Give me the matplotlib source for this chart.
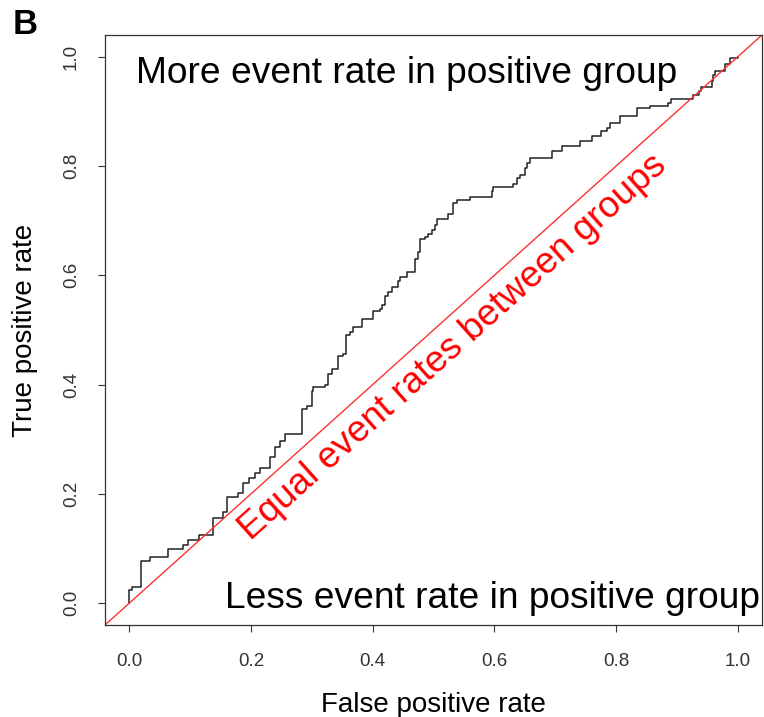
import matplotlib
matplotlib.use("Agg")
import matplotlib.pyplot as plt
import numpy as np

plt.rcParams['font.family'] = ['Liberation Sans', 'DejaVu Sans']

# ROC step curve corners (false positive rate, true positive rate)
fpr = [0.000, 0.000, 0.005, 0.019, 0.034, 0.064, 0.089, 0.097, 0.115, 0.138,
       0.154, 0.161, 0.179, 0.187, 0.196, 0.207, 0.215, 0.232, 0.240, 0.248,
       0.256, 0.284, 0.292, 0.300, 0.302, 0.322, 0.327, 0.333, 0.343, 0.351,
       0.357, 0.363, 0.368, 0.382, 0.401, 0.412, 0.415, 0.420, 0.425, 0.431,
       0.442, 0.445, 0.456, 0.470, 0.475, 0.478, 0.486, 0.491, 0.497, 0.502,
       0.505, 0.524, 0.532, 0.538, 0.560, 0.596, 0.598, 0.631, 0.637, 0.642,
       0.650, 0.653, 0.658, 0.694, 0.711, 0.741, 0.760, 0.776, 0.786, 0.790,
       0.806, 0.834, 0.856, 0.886, 0.891, 0.926, 0.937, 0.940, 0.957, 0.959,
       0.962, 0.979, 0.987, 1.000]
tpr = [0.000, 0.024, 0.030, 0.078, 0.085, 0.100, 0.107, 0.116, 0.124, 0.156,
       0.167, 0.195, 0.202, 0.220, 0.230, 0.239, 0.248, 0.268, 0.285, 0.296,
       0.309, 0.355, 0.361, 0.388, 0.395, 0.400, 0.419, 0.428, 0.453, 0.456,
       0.490, 0.496, 0.505, 0.520, 0.535, 0.539, 0.545, 0.563, 0.570, 0.579,
       0.590, 0.597, 0.606, 0.630, 0.643, 0.667, 0.671, 0.676, 0.683, 0.692,
       0.704, 0.713, 0.732, 0.738, 0.744, 0.754, 0.761, 0.768, 0.778, 0.784,
       0.796, 0.805, 0.814, 0.827, 0.836, 0.846, 0.855, 0.864, 0.869, 0.879,
       0.891, 0.906, 0.910, 0.915, 0.922, 0.930, 0.937, 0.945, 0.955, 0.967,
       0.974, 0.986, 0.998, 1.000]

ticks = [0.0, 0.2, 0.4, 0.6, 0.8, 1.0]
tick_labels = ['0.0', '0.2', '0.4', '0.6', '0.8', '1.0']

fig = plt.figure(figsize=(7.64, 7.17), dpi=100)
ax = fig.add_axes([0.1374, 0.1283, 0.860, 0.8229])

ax.plot(fpr, tpr, drawstyle='steps-post', color='#222222', lw=1.1)
ax.axline((0, 0), slope=1, color='#ff3030', lw=1.0)

ax.set_xlim(-0.04, 1.04)
ax.set_ylim(-0.04, 1.04)

ax.set_xticks(ticks)
ax.set_xticklabels(tick_labels)
ax.set_yticks(ticks)
ax.set_yticklabels(tick_labels, rotation=90, va='center')
ax.tick_params(direction='out', length=5, width=0.8, colors='#333333',
               labelsize=13.5)
ax.tick_params(axis='x', pad=15)
ax.tick_params(axis='y', pad=13)
for sp in ax.spines.values():
    sp.set_color('#333333')
    sp.set_linewidth(0.9)

ax.set_xlabel('False positive rate', fontsize=20)
ax.set_ylabel('True positive rate', fontsize=20)
ax.xaxis.set_label_coords(0.5, -0.1356)
ax.xaxis.label.set_va('center')
ax.yaxis.set_label_coords(-0.1218, 0.5)
ax.yaxis.label.set_va('center')

ax.text(0.0115, 0.97, 'More event rate in positive group', fontsize=26.7,
        ha='left', va='center')
ax.text(1.036, 0.009, 'Less event rate in positive group', fontsize=26.7,
        ha='right', va='center')
ax.text(0.532, 0.469, 'Equal event rates between groups', fontsize=26.6,
        color='red', rotation=41.8, rotation_mode='anchor',
        ha='center', va='center')

fig.text(25 / 764, 1 - 24 / 717, 'B', fontsize=25, fontweight='bold',
         ha='center', va='center')

fig.savefig('out.png', dpi=100)
